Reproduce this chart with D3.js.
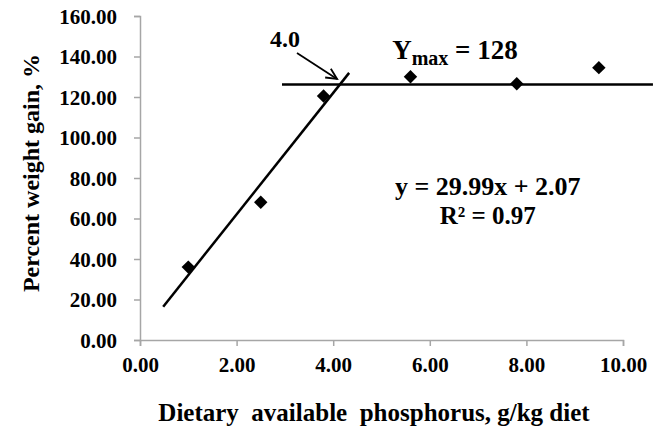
<!DOCTYPE html>
<html><head><meta charset="utf-8">
<script src="https://cdn.jsdelivr.net/npm/d3@7"></script>
<style>
html,body{margin:0;padding:0;background:#fff;}
text{font-family:"Liberation Serif","Times New Roman",serif;font-weight:bold;fill:#000;}
</style></head>
<body><svg id="chart" width="659" height="428"></svg>
<script>
// Data
const phosphorus = [1.0, 2.5, 3.8, 5.6, 7.8, 9.5];
const weightGain = [36, 68, 120.5, 130, 126.5, 134.5];
const xTicks = [0, 2, 4, 6, 8, 10];
const yTicks = [0, 20, 40, 60, 80, 100, 120, 140, 160];
const slope = 29.99, intercept = 2.07;
const regRange = [0.48, 4.33];
const plateauY = 126.2;
const plateauRange = [2.94, 10.62];
const breakpointLabel = "4.0";
const eqLabel = "y = 29.99x + 2.07";
const r2Label = "R² = 0.97";
const ymaxValue = "128";

const svg = d3.select("#chart");
const x = d3.scaleLinear().domain([0, 10]).range([140, 623]);
const y = d3.scaleLinear().domain([0, 160]).range([340, 16]);
const axisColor = "#a6a6a6";
const serif = '"Liberation Serif","Times New Roman",serif';

// Axes
const xAxis = svg.append("g").attr("transform", `translate(0,${y(0)})`)
  .call(d3.axisBottom(x).tickValues(xTicks).tickFormat(d3.format(".2f")).tickSizeOuter(0).tickSize(6));
const yAxis = svg.append("g").attr("transform", `translate(${x(0)},0)`)
  .call(d3.axisLeft(y).tickValues(yTicks).tickFormat(d3.format(".2f")).tickSizeOuter(0).tickSize(6));
[xAxis, yAxis].forEach(g => {
  g.attr("font-family", serif);
  g.select(".domain").attr("stroke", axisColor).attr("stroke-width", 1.5);
  g.selectAll(".tick line").attr("stroke", axisColor).attr("stroke-width", 1.5);
  g.selectAll(".tick text").style("font-family", serif)
    .style("font-weight", "bold").style("font-size", "21px").attr("fill", "#000");
});
xAxis.selectAll(".tick text").attr("dy", null).attr("y", 32);
yAxis.selectAll(".tick text").attr("x", -23).attr("dy", "0.35em");

// Axis titles
svg.append("text").attr("x", 374).attr("y", 421).attr("text-anchor", "middle")
  .style("font-size", "25px").attr("xml:space", "preserve")
  .text("Dietary  available  phosphorus, g/kg diet");
svg.append("text").attr("transform", "translate(39,173) rotate(-90)").attr("text-anchor", "middle")
  .style("font-size", "24px").text("Percent weight gain, %");

// Regression line
svg.append("line")
  .attr("x1", x(regRange[0])).attr("y1", y(slope * regRange[0] + intercept))
  .attr("x2", x(regRange[1])).attr("y2", y(slope * regRange[1] + intercept))
  .attr("stroke", "#000").attr("stroke-width", 2.5);
// Plateau line
svg.append("line")
  .attr("x1", x(plateauRange[0])).attr("y1", y(plateauY))
  .attr("x2", x(plateauRange[1])).attr("y2", y(plateauY))
  .attr("stroke", "#000").attr("stroke-width", 2.5);

// Points
const diamond = d3.symbol().type(d3.symbolDiamond2).size(115);
svg.selectAll("path.pt").data(phosphorus).enter().append("path").attr("class", "pt")
  .attr("d", diamond)
  .attr("transform", (d, i) => `translate(${x(d)},${y(weightGain[i])})`)
  .attr("fill", "#000");

// Arrow annotation
const a0 = [x(3.25), y(141.7)], a1 = [x(4.08), y(128.9)];
svg.append("line").attr("x1", a0[0]).attr("y1", a0[1]).attr("x2", a1[0]).attr("y2", a1[1])
  .attr("stroke", "#000").attr("stroke-width", 1.8);
const ang = Math.atan2(a1[1] - a0[1], a1[0] - a0[0]);
const hl = 12, spread = 0.45;
const head = [
  [a1[0] - hl * Math.cos(ang - spread), a1[1] - hl * Math.sin(ang - spread)],
  a1,
  [a1[0] - hl * Math.cos(ang + spread), a1[1] - hl * Math.sin(ang + spread)]
];
svg.append("path").attr("d", d3.line()(head)).attr("fill", "none")
  .attr("stroke", "#000").attr("stroke-width", 1.8);

svg.append("text").attr("x", x(3.0)).attr("y", y(144.5)).attr("text-anchor", "middle")
  .style("font-size", "24px").text(breakpointLabel);

// Ymax label
const ym = svg.append("text").attr("x", x(5.22)).attr("y", y(138.7)).style("font-size", "27px");
ym.append("tspan").text("Y");
ym.append("tspan").attr("dy", 6).style("font-size", "20px").text("max");
ym.append("tspan").attr("dy", -6).text(" = " + ymaxValue);

// Equation
svg.append("text").attr("x", x(7.2)).attr("y", y(71.5)).attr("text-anchor", "middle")
  .style("font-size", "26px").text(eqLabel);
svg.append("text").attr("x", x(7.2)).attr("y", y(57.5)).attr("text-anchor", "middle")
  .style("font-size", "25px").text(r2Label);
</script></body></html>
